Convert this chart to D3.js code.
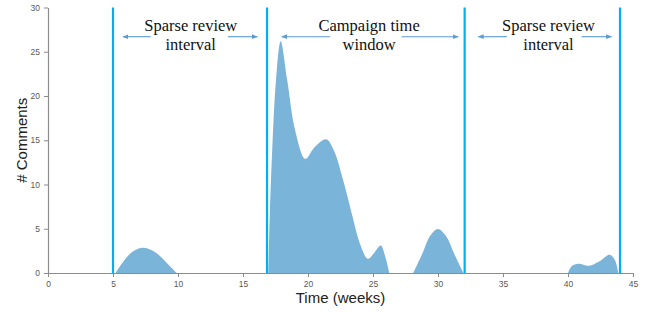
<!DOCTYPE html>
<html><head><meta charset="utf-8">
<script src="https://cdn.jsdelivr.net/npm/d3@7/dist/d3.min.js"></script>
<style>
html,body{margin:0;padding:0;background:#fff;}
svg{display:block;}
</style></head>
<body><svg id="chart" width="656" height="312"></svg>
<script>
// ---- data ----
const weeks    = [5.2,5.8,6.5,7.3,8.2,9.1,9.9, null,
                  16.95,17.05,17.25,17.55,17.9,18.4,19.0,19.8,20.5,21.4,22.0,22.7,23.35,24.0,24.6,25.1,25.6,25.95,26.25, null,
                  28.1,28.8,29.4,30.0,30.6,31.3,31.95, null,
                  40.0,40.3,40.8,41.6,42.4,43.2,43.6,43.87];
const comments = [0,1.3,2.4,2.85,2.4,1.2,0, null,
                  0,6,14,22,26.2,21.8,16.2,12.9,14.2,15.1,13.8,10.5,6.8,3.3,1.6,2.3,3.1,1.8,0, null,
                  0,2.2,4.2,4.97,4.2,2.0,0, null,
                  0,0.8,1.05,0.82,1.3,2.07,1.5,0];
const boundaryWeeks = [5, 16.85, 32.05, 44];
const xTicks = [0,5,10,15,20,25,30,35,40,45];
const yTicks = [0,5,10,15,20,25,30];
const annLines = [["Sparse review","interval"],["Campaign time","window"],["Sparse review","interval"]];
const annCenter = [10.98, 24.7, 38.5];
const arrowLeft  = [[7.9,5.77],[21.7,17.98],[35.3,33.1]];   // [tail, head]
const arrowRight = [[13.85,16.1],[27.2,31.55],[41.05,43.35]];

// ---- setup ----
const svg = d3.select("#chart");
const x = d3.scaleLinear().domain([0,45]).range([48,633]);
const y = d3.scaleLinear().domain([0,30]).range([273,7.5]);
const axisColor = "#8c8c8c", labelColor = "#595959";

svg.append("defs").append("clipPath").attr("id","plotclip")
  .append("rect").attr("x",x(0)).attr("y",0).attr("width",x(45)-x(0)).attr("height",y(0));

// area
const pts = weeks.map((w,i)=>({w, c: comments[i]}));
const area = d3.area()
  .defined(d=>d.w!==null)
  .x(d=>x(d.w)).y0(y(0)).y1(d=>y(d.c))
  .curve(d3.curveCatmullRom.alpha(0.5));
svg.append("path").datum(pts).attr("d",area).attr("fill","#7ab4d9")
  .attr("clip-path","url(#plotclip)");

// axes
const xAxis = svg.append("g").attr("transform",`translate(0,${y(0)})`)
  .call(d3.axisBottom(x).tickValues(xTicks).tickSize(4).tickSizeOuter(0).tickPadding(4));
const yAxis = svg.append("g").attr("transform",`translate(${x(0)},0)`)
  .call(d3.axisLeft(y).tickValues(yTicks).tickSize(4).tickSizeOuter(0).tickPadding(4));
[xAxis,yAxis].forEach(g=>{
  g.select(".domain").attr("stroke",axisColor).attr("stroke-width",1.2);
  g.selectAll(".tick line").attr("stroke",axisColor);
  g.selectAll(".tick text").attr("fill",labelColor)
    .attr("font-family","Liberation Sans, Arial, sans-serif").attr("font-size",8.5);
});

// boundary lines
svg.selectAll("line.bound").data(boundaryWeeks).enter().append("line")
  .attr("class","bound")
  .attr("x1",d=>x(d)).attr("x2",d=>x(d))
  .attr("y1",y(30)).attr("y2",y(0))
  .attr("stroke","#00b0f0").attr("stroke-width",2.2);

// axis titles
svg.append("text").attr("x",(x(0)+x(45))/2).attr("y",303)
  .attr("text-anchor","middle").attr("font-family","Liberation Sans, Arial, sans-serif")
  .attr("font-size",15).attr("fill","#222").text("Time (weeks)");
svg.append("text").attr("transform",`translate(27,${(y(0)+y(30))/2}) rotate(-90)`)
  .attr("text-anchor","middle").attr("font-family","Liberation Sans, Arial, sans-serif")
  .attr("font-size",15).attr("fill","#222").text("# Comments");

// arrow marker
const defs = svg.append("defs");
defs.append("marker").attr("id","ah").attr("viewBox","0 0 10 10")
  .attr("refX",9).attr("refY",5).attr("markerWidth",6).attr("markerHeight",6)
  .attr("markerUnits","userSpaceOnUse").attr("orient","auto")
  .append("path").attr("d","M0,1 L10,5 L0,9 Z").attr("fill","#5b9bd5");

const arrowY = 36.7;
[...arrowLeft, ...arrowRight].forEach(a=>{
  svg.append("line").attr("x1",x(a[0])).attr("x2",x(a[1]))
    .attr("y1",arrowY).attr("y2",arrowY)
    .attr("stroke","#5b9bd5").attr("stroke-width",1.1)
    .attr("marker-end","url(#ah)");
});

// annotations
annLines.forEach((lines,i)=>{
  const t = svg.append("text").attr("text-anchor","middle")
    .attr("font-family","Liberation Serif, Times New Roman, serif")
    .attr("font-size",16.5).attr("fill","#111");
  lines.forEach((s,j)=>{
    t.append("tspan").attr("x",x(annCenter[i])).attr("y",31+j*19).text(s);
  });
});
</script></body></html>
